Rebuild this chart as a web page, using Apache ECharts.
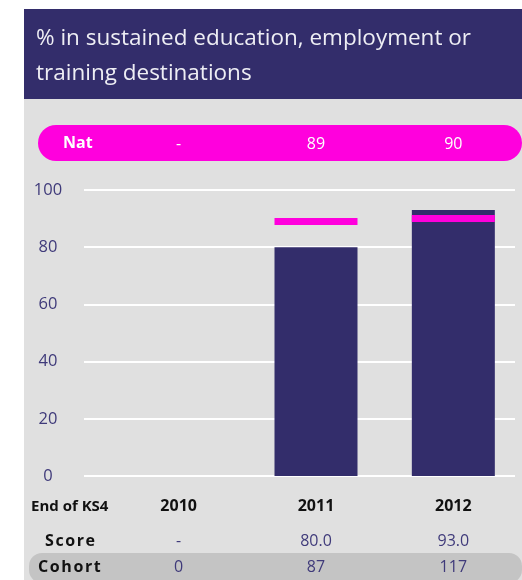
<!DOCTYPE html>
<html>
<head>
<meta charset="utf-8">
<script src="https://cdn.jsdelivr.net/npm/echarts@6/dist/echarts.min.js"></script>
<style>
  html, body { margin: 0; padding: 0; background: #fff; }
  #main { width: 522px; height: 580px; }
</style>
</head>
<body>
<div id="main"></div>
<script>
// data
var years = ['2010', '2011', '2012']
var score = [null, 80, 93]
var national = [null, 89, 90]
var cohort = [0, 87, 117]
var yTicks = [0, 20, 40, 60, 80, 100]

var purple = '#332D6B'
var pink = '#FF00DD'
var font = '"Open Sans", sans-serif'

function dash(v, digits) {
  return v == null ? '-' : (digits ? v.toFixed(digits) : String(v))
}

var chart = echarts.init(document.getElementById('main'))

var gridTop = 190, gridBottom = 104

chart.setOption({
  backgroundColor: '#fff',
  animation: false,
  textStyle: { fontFamily: font },
  graphic: [
    { type: 'rect', z: -10, shape: { x: 24, y: 99, width: 498, height: 481 }, style: { fill: '#E0E0E0' } },
    { type: 'rect', z: -10, shape: { x: 24, y: 9, width: 498, height: 90 }, style: { fill: purple } },
    { type: 'text', z: 5, x: 36, y: 39, style: { text: '% in sustained education, employment or', fill: '#EEEEF4', font: '22.5px ' + font, verticalAlign: 'middle' } },
    { type: 'text', z: 5, x: 36, y: 74, style: { text: 'training destinations', fill: '#EEEEF4', font: '22.5px ' + font, verticalAlign: 'middle' } },
    { type: 'rect', z: -9, shape: { x: 38, y: 125, width: 484, height: 36, r: 18 }, style: { fill: pink } },
    { type: 'text', z: 5, x: 63, y: 143, style: { text: 'Nat', fill: '#fff', font: 'bold 16px ' + font, verticalAlign: 'middle' } },
    { type: 'rect', z: -9, shape: { x: 29, y: 553, width: 493, height: 30, r: 13 }, style: { fill: '#C4C4C4' } },
    { type: 'text', z: 5, x: 31, y: 507, style: { text: 'End of KS4', fill: '#111', font: 'bold 15px ' + font, verticalAlign: 'middle' } },
    { type: 'text', z: 5, x: 45, y: 541, style: { text: 'S\u200Ac\u200Ao\u200Ar\u200Ae', fill: '#111', font: 'bold 16px ' + font, verticalAlign: 'middle' } },
    { type: 'text', z: 5, x: 38, y: 567, style: { text: 'C\u200Ao\u200Ah\u200Ao\u200Ar\u200At', fill: '#111', font: 'bold 16px ' + font, verticalAlign: 'middle' } }
  ],
  grid: [
    { left: 84, right: 7, top: gridTop, bottom: gridBottom },
    { left: 110, right: 0, top: gridTop, bottom: gridBottom }
  ],
  xAxis: [
    {
      gridIndex: 1, type: 'category', data: years, position: 'bottom',
      axisLine: { show: false }, axisTick: { show: false },
      axisLabel: { margin: 22, fontSize: 16, fontWeight: 'bold', color: '#111' }
    },
    {
      gridIndex: 1, type: 'category', data: years, position: 'bottom',
      axisLine: { show: false }, axisTick: { show: false },
      axisLabel: { margin: 57, fontSize: 16, color: '#3F3A7A',
        formatter: function (v, i) { return dash(score[i], 1) } }
    },
    {
      gridIndex: 1, type: 'category', data: years, position: 'bottom',
      axisLine: { show: false }, axisTick: { show: false },
      axisLabel: { margin: 83, fontSize: 16, color: '#3F3A7A',
        formatter: function (v, i) { return dash(cohort[i]) } }
    },
    {
      gridIndex: 1, type: 'category', data: years, position: 'top',
      axisLine: { show: false }, axisTick: { show: false },
      axisLabel: { margin: 38, fontSize: 16, color: '#fff',
        formatter: function (v, i) { return dash(national[i]) } }
    },
    {
      gridIndex: 0, type: 'value', min: 0, max: 1, show: false
    }
  ],
  yAxis: [
    {
      gridIndex: 0, type: 'value', min: 0, max: 100, interval: 20,
      axisLine: { show: false }, axisTick: { show: false },
      splitLine: { lineStyle: { color: '#fff', width: 2 } },
      axisLabel: { margin: 36, align: 'center', fontSize: 16.5, color: '#3F3A7A' }
    },
    {
      gridIndex: 1, type: 'value', min: 0, max: 100, interval: 20, show: false
    }
  ],
  series: [
    {
      type: 'bar', xAxisIndex: 0, yAxisIndex: 1, data: score,
      barWidth: 83, itemStyle: { color: purple }, z: 3
    },
    {
      type: 'scatter', xAxisIndex: 0, yAxisIndex: 1, data: national,
      symbol: 'rect', symbolSize: [83, 7], itemStyle: { color: pink, opacity: 1 }, z: 4
    }
  ]
})
</script>
</body>
</html>
